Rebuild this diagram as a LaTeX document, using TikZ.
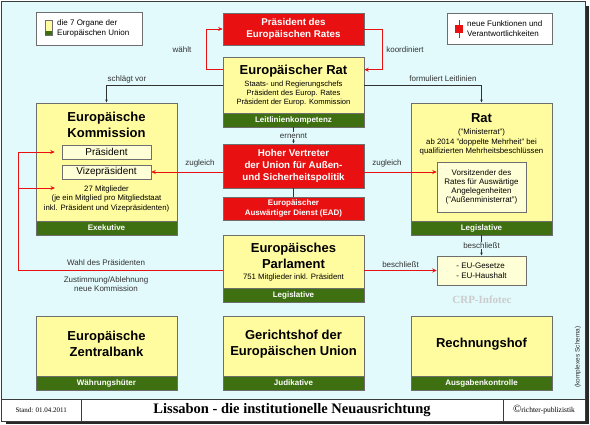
\documentclass[tikz,border=0pt]{standalone}
\usepackage{fontspec}
\setmainfont{Liberation Sans}
\newfontfamily\footfont{Liberation Serif}
\usepackage{tikz}
\definecolor{eubg}{RGB}{226,250,252}
\definecolor{euyellow}{RGB}{255,252,160}
\definecolor{eupale}{RGB}{255,255,215}
\definecolor{eugreen}{RGB}{62,112,18}
\definecolor{eured}{RGB}{232,16,16}
\definecolor{euline}{RGB}{110,110,110}
\definecolor{eulabelc}{RGB}{50,50,50}
\definecolor{euframe}{RGB}{60,60,60}
\definecolor{eushadow}{RGB}{40,40,40}
\usetikzlibrary{arrows.meta, positioning, calc}
\newcommand{\eufs}[2]{\fontsize{#1}{#2}\selectfont}
\tikzset{
    eubody/.style={draw=euline, fill=euyellow, line width=0.6pt, minimum width=141pt, inner sep=0pt},
    euband/.style={draw=euline, fill=eugreen, line width=0.6pt, text=white, minimum width=141pt, minimum height=14pt, inner sep=0pt, font=\bfseries\eufs{8}{9}},
    eutitle/.style={align=center, inner sep=0pt, font=\bfseries\eufs{13}{16}},
    eutext/.style={align=center, inner sep=0pt, font=\eufs{7.8}{9.5}},
    eusub/.style={draw=euline, fill=eupale, line width=0.5pt, align=center, minimum width=89pt, inner sep=0pt, font=\eufs{8}{9.2}},
    eunew/.style={draw=euline, fill=eured, line width=0.6pt, text=white, align=center, minimum width=141pt, inner sep=0pt, font=\bfseries\eufs{9.8}{12}},
    eulabel/.style={inner sep=1pt, text=eulabelc, font=\eufs{8}{9.5}},
    eulegend/.style={draw=euline, fill=white, line width=0.5pt, inner sep=0pt},
    footcell/.style={draw=euframe, fill=white, line width=0.6pt, inner sep=0pt, minimum height=22pt},
    redarrow/.style={draw=eured, line width=0.9pt, -{Stealth[length=4.5pt, width=4pt]}},
    redline/.style={draw=eured, line width=0.9pt},
    darkarrow/.style={draw=eulabelc, line width=0.5pt, -{Latex[length=3pt, width=2.5pt]}},
    darkline/.style={draw=eulabelc, line width=0.6pt}
}

\begin{document}
\begin{tikzpicture}[x=1pt, y=-1pt]
  \useasboundingbox (0,0) rectangle (590,425);
  % frame with shadow
  \fill[eushadow] (6,6) rectangle (589,424);
  \draw[draw=euframe, fill=eubg, line width=0.8pt] (1.5,1.5) rectangle (585,421);

  % legends
  \node[eulegend, minimum width=106pt, minimum height=33pt] (legorg) at (89,28.5) {};
  \node[draw=euline, fill=euyellow, minimum width=7pt, minimum height=15pt, inner sep=0pt] (legicon) at (48.5,28) {};
  \node[fill=eugreen, minimum width=7pt, minimum height=4pt, inner sep=0pt] (legiconband) at (48.5,33.5) {};
  \node[anchor=west, align=left, inner sep=0pt, font=\eufs{8}{9.5}] (legorgtxt) at (57,28.5)
    {die 7 Organe der\\Europäischen Union};
  \node[eulegend, minimum width=105pt, minimum height=31pt] (legnew) at (499.5,28.5) {};
  \draw[eured, line width=1pt] (459,20) -- (459,38);
  \node[fill=eured, minimum size=8pt, inner sep=0pt] (legnewicon) at (459,29) {};
  \node[anchor=west, align=left, inner sep=0pt, font=\eufs{8}{9.5}] (legnewtxt) at (467,28.5)
    {neue Funktionen und\\Verantwortlichkeiten};

  % Europaeischer Rat
  \node[eunew, minimum height=32pt] (prs) at (293.5,29) {Präsident des\\Europäischen Rates};
  \node[eubody, minimum height=56pt] (eratbody) at (293.5,85) {};
  \node[euband] (eratband) at (293.5,120) {Leitlinienkompetenz};
  \node[eutitle] (erattitle) at (293.5,71) {Europäischer Rat};
  \node[eutext, font=\eufs{7.6}{9}] (erattext) at (293.5,94)
    {Staats- und Regierungschefs\\Präsident des Europ. Rates\\Präsident der Europ. Kommission};

  % Hoher Vertreter
  \node[eunew, minimum height=44pt] (hv) at (293.5,166)
    {Hoher Vertreter\\der Union für Außen-\\und Sicherheitspolitik};
  \node[eunew, minimum height=23pt, font=\bfseries\eufs{8}{10}] (ead) at (293.5,208.5)
    {Europäischer\\Auswärtiger Dienst (EAD)};

  % Kommission
  \node[eubody, minimum height=118pt] (kombody) at (106.5,162) {};
  \node[euband] (komband) at (106.5,228) {Exekutive};
  \node[eutitle] (komtitle) at (106.5,125) {Europäische\\Kommission};
  \node[eusub, minimum height=14pt, font=\eufs{10}{11}] (praes) at (106.5,152) {Präsident};
  \node[eusub, minimum height=14pt, font=\eufs{10}{11}] (vize) at (106.5,172) {Vizepräsident};
  \node[eutext] (mitgl) at (106.5,198.5)
    {27 Mitglieder\\(je ein Mitglied pro Mitgliedstaat\\inkl. Präsident und Vizepräsidenten)};

  % Rat
  \node[eubody, minimum height=118pt] (ratbody) at (481.5,162) {};
  \node[euband] (ratband) at (481.5,228) {Legislative};
  \node[eutitle] (rattitle) at (481.5,118) {Rat};
  \node[eutext] (rattext) at (481.5,142)
    {("Ministerrat")\\ab 2014 "doppelte Mehrheit" bei\\qualifizierten Mehrheitsbeschlüssen};
  \node[eusub, minimum height=50pt] (vors) at (481.5,187)
    {Vorsitzender des\\Rates für Auswärtige\\Angelegenheiten\\("Außenministerrat")};

  % Parlament
  \node[eubody, minimum height=53pt] (parlbody) at (293.5,261.5) {};
  \node[euband] (parlband) at (293.5,295) {Legislative};
  \node[eutitle] (parltitle) at (293.5,256) {Europäisches\\Parlament};
  \node[eutext] (parltext) at (293.5,277) {751 Mitglieder inkl. Präsident};
  \node[eusub, minimum height=29pt, align=left, font=\eufs{8}{10}] (eu) at (481.5,270.5)
    {- EU-Gesetze\\- EU-Haushalt};
  \node[font=\bfseries\footfont\eufs{11}{12}, text=black!20] (wm) at (482,300) {CRP-Infotec};

  % bottom row
  \node[eubody, minimum height=60pt] (ezbbody) at (106.5,346) {};
  \node[euband] (ezbband) at (106.5,383) {Währungshüter};
  \node[eutitle] (ezbtitle) at (106.5,344) {Europäische\\Zentralbank};
  \node[eubody, minimum height=60pt] (eughbody) at (293.5,346) {};
  \node[euband] (eughband) at (293.5,383) {Judikative};
  \node[eutitle] (eughtitle) at (293.5,344) {Gerichtshof der\\Europäischen Union};
  \node[eubody, minimum height=60pt] (erhbody) at (481.5,346) {};
  \node[euband] (erhband) at (481.5,383) {Ausgabenkontrolle};
  \node[eutitle] (erhtitle) at (481.5,344) {Rechnungshof};
  \node[rotate=90, text=eulabelc, font=\eufs{6.5}{8}] (kompl) at (578,357) {(komplexes Schema)};

  % footer
  \node[footcell, minimum width=79.5pt, font=\footfont\eufs{7}{8}] (stand) at (41.25,410) {Stand: 01.04.2011};
  \node[footcell, minimum width=422pt, font=\footfont\bfseries\eufs{14.5}{16}] (titel) at (292,410)
    {Lissabon - die institutionelle Neuausrichtung};
  \node[footcell, minimum width=82pt, font=\footfont\eufs{7.5}{8}] (copy) at (544,410)
    {{\eufs{11}{11}©}richter-publizistik};

  % connectors
  \draw[redarrow] ([yshift=-13pt]eratbody.north west) -- ++(-16,0) |- (prs.west);
  \node[eulabel] (lwaehlt) at (182,50) {wählt};
  \draw[redarrow] (prs.east) -- ++(18,0) |- ([yshift=-13pt]eratbody.north east);
  \node[eulabel] (lkoord) at (405,50) {koordiniert};
  \draw[darkarrow] ([yshift=-29pt]eratbody.north west) -| (kombody.north);
  \node[eulabel] (lvor) at (127,79) {schlägt vor};
  \draw[darkarrow] ([yshift=-29pt]eratbody.north east) -| (ratbody.north);
  \node[eulabel] (lform) at (443,79) {formuliert Leitlinien};
  \draw[darkarrow] (eratband.south) -- node[eulabel, fill=eubg] (lern) {ernennt} (hv.north);
  \draw[darkline] (hv.south) -- (ead.north);
  \draw[redarrow] (hv.west |- vize.east) -- (vize.east);
  \node[eulabel] (lzugl) at (200,163) {zugleich};
  \draw[redarrow] (hv.east |- vize.east) -- (vors.west |- vize.east);
  \node[eulabel] (lzugr) at (387,163) {zugleich};
  \draw[darkarrow] (ratband.south) -- node[eulabel, fill=eubg] (lbeschl) {beschließt} (eu.north);
  \draw[redarrow] (parlbody.east |- eu.west) -- node[eulabel, above=1pt] (lbeschlp) {beschließt} (eu.west);
  \coordinate (wahlknick) at (18,270.5);
  \coordinate (mitglin) at (55,188);
  \draw[redline] (parlbody.west |- eu.west) -- (wahlknick);
  \draw[redarrow] (wahlknick) |- ([xshift=-7pt]praes.west);
  \draw[redarrow] (wahlknick |- mitglin) -- (mitglin);
  \node[eulabel] (lwahl) at (106,263) {Wahl des Präsidenten};
  \node[eulabel, align=center] (lzust) at (106,284) {Zustimmung/Ablehnung\\neue Kommission};
\end{tikzpicture}
\end{document}
